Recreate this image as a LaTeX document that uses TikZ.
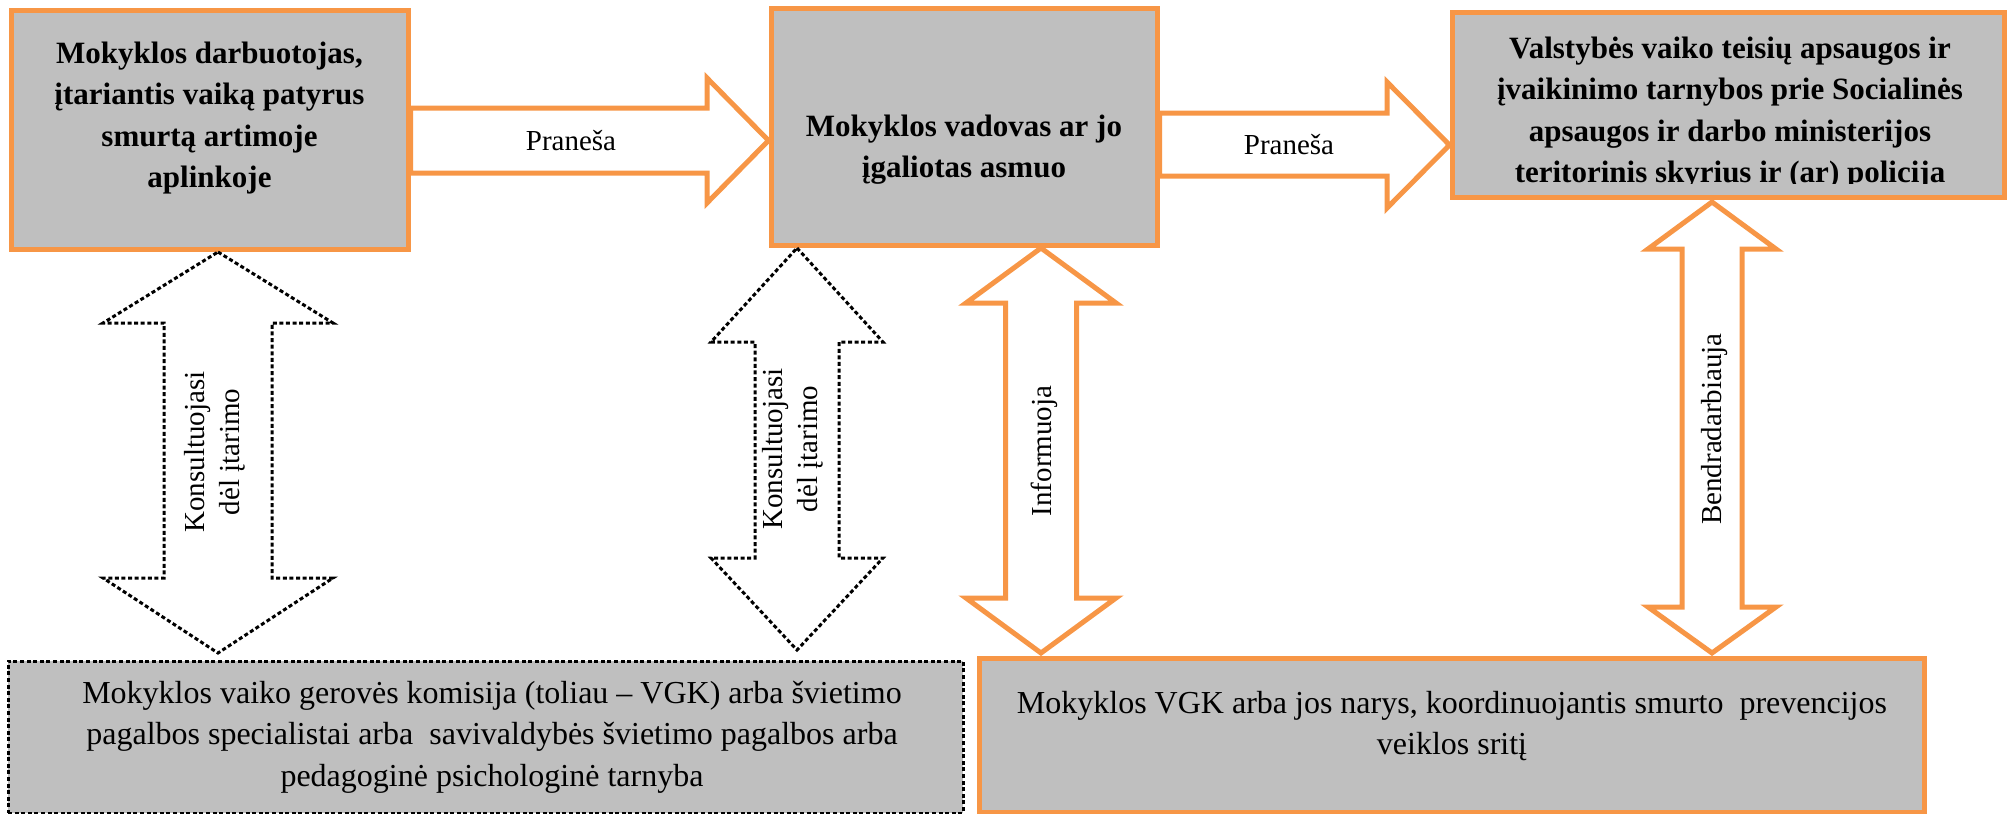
\documentclass[tikz,border=0pt]{standalone}
\usepackage{fontspec}
\setmainfont{Liberation Serif}
\definecolor{orng}{HTML}{F79646}
\definecolor{gryfill}{HTML}{BFBFBF}
\begin{document}
\begin{tikzpicture}[x=0.5pt,y=-0.5pt,
  obox/.style={draw=orng, fill=gryfill, line width=2.5pt, inner sep=0pt},
  dbox/.style={draw=black, fill=gryfill, line width=1.5pt, dash pattern=on 2pt off 1.3pt, inner sep=0pt},
  oarrow/.style={draw=orng, fill=white, line width=2.5pt},
  darrow/.style={draw=black, fill=white, line width=1.5pt, dash pattern=on 2pt off 1.3pt},
  btext/.style={font=\fontsize{15.5}{20.7}\selectfont\bfseries, align=center, inner sep=0pt},
  rtext/.style={font=\fontsize{16}{20.8}\selectfont, align=center, inner sep=0pt},
  ltext/.style={font=\fontsize{14.5}{17.5}\selectfont, align=center, inner sep=0pt, rotate=90},
  ptext/.style={font=\fontsize{14.5}{17}\selectfont, inner sep=0pt, anchor=base}]
\useasboundingbox (0,0) rectangle (2010,814);

% boxes
\node[obox, minimum width=198.5pt, minimum height=119.5pt] (A) at (209.5,129.5) {};
\node[obox, minimum width=193pt, minimum height=118.5pt] (B) at (964,126.5) {};
\node[obox, minimum width=276pt, minimum height=92.5pt] (C) at (1728,104.5) {};
\node[dbox, minimum width=477.5pt, minimum height=76pt] (D) at (485.5,737) {};
\node[obox, minimum width=472.5pt, minimum height=77pt] (E) at (1451.5,735) {};

% horizontal block arrows
\draw[oarrow] (A.east |- 0,108) -- (707,108) -- (707,78) -- (B.west |- 0,140.5)
  -- (707,203) -- (707,173) -- (A.east |- 0,173) -- cycle;
\draw[oarrow] (B.east |- 0,113) -- (1387,113) -- (1387,82) -- (C.west |- 0,145)
  -- (1387,208) -- (1387,176) -- (B.east |- 0,176) -- cycle;

% vertical double block arrows
\draw[darrow] (218,252) -- (333,323) -- (272,323) -- (272,578) -- (333,578) -- (218,653)
  -- (103,578) -- (164,578) -- (164,323) -- (103,323) -- cycle;
\draw[darrow] (797,248) -- (883,342) -- (839,342) -- (839,558) -- (883,558) -- (797,650)
  -- (711,558) -- (755,558) -- (755,342) -- (711,342) -- cycle;
\draw[oarrow] (1041,248) -- (1116,303) -- (1076.5,303) -- (1076.5,598) -- (1116,598) -- (1041,653)
  -- (966,598) -- (1005.5,598) -- (1005.5,303) -- (966,303) -- cycle;
\draw[oarrow] (1712,202) -- (1776,249) -- (1742,249) -- (1742,607) -- (1776,607) -- (1712,653)
  -- (1648,607) -- (1682,607) -- (1682,249) -- (1648,249) -- cycle;

% box texts
\node[btext] (At) at (209.5,118) {Mokyklos darbuotojas,\\ įtariantis vaiką patyrus\\ smurtą artimoje\\ aplinkoje};
\node[btext] (Bt) at (964,149.5) {Mokyklos vadovas ar jo\\ įgaliotas asmuo};
\begin{scope}
\clip (1452,12) rectangle (2004,183);
\node[btext] (Ct) at (1730,113) {Valstybės vaiko teisių apsaugos ir\\ įvaikinimo tarnybos prie Socialinės\\ apsaugos ir darbo ministerijos\\ teritorinis skyrius ir (ar) policija};
\end{scope}
\node[rtext] (Dt) at (492,737) {Mokyklos vaiko gerovės komisija (toliau – VGK) arba švietimo\\ pagalbos specialistai arba~ savivaldybės švietimo pagalbos arba\\ pedagoginė psichologinė tarnyba};
\node[rtext] (Et) at (1452,726) {Mokyklos VGK arba jos narys, koordinuojantis smurto~ prevencijos\\ veiklos sritį};

% arrow labels
\node[ptext] (p1) at (571,150) {Praneša};
\node[ptext] (p2) at (1289,154) {Praneša};
\node[ltext] (k1) at (215,452) {Konsultuojasi\\ dėl įtarimo};
\node[ltext] (k2) at (793,449) {Konsultuojasi\\ dėl įtarimo};
\node[ltext] (inf) at (1044,451) {Informuoja};
\node[ltext] (ben) at (1715,429) {Bendradarbiauja};
\end{tikzpicture}
\end{document}
